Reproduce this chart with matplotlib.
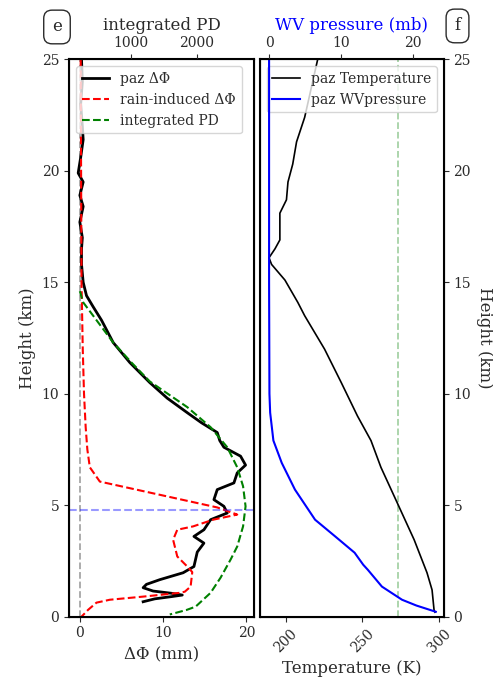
import matplotlib
matplotlib.use('Agg')
import matplotlib.pyplot as plt

plt.rcParams['font.family'] = 'DejaVu Serif'
plt.rcParams['font.size'] = 10
for key in ('text.color', 'axes.labelcolor', 'xtick.color', 'ytick.color'):
    plt.rcParams[key] = '#2b2b2b'

# left panel: differential phase profiles (mm) vs height (km)
paz_h = [25, 24, 23, 22, 21.4, 20.6, 19.9, 19.5, 18.9, 18.4, 17.7, 17.0, 16.5, 15.8,
         15.0, 14.4, 13.9, 13.3, 12.3, 11.4, 10.5, 9.8, 9.15, 8.7, 8.26, 7.9, 7.6, 7.2,
         6.8, 6.45, 6.0, 5.7, 5.25, 4.95, 4.65, 4.35, 3.9, 3.6, 3.3, 2.9, 2.25, 1.97,
         1.66, 1.45, 1.3, 1.15, 1.05, 0.97, 0.9, 0.8, 0.67]
paz_dphi = [0.2, 0.3, 0.1, 0.3, 0.4, 0.1, -0.2, 0.4, 0.0, 0.4, 0.0, 0.3, 0.2, 0.2,
            0.4, 0.8, 1.6, 2.6, 4.0, 6.0, 8.4, 10.5, 12.9, 14.6, 16.5, 16.8, 17.3, 19.3,
            19.9, 18.9, 18.5, 16.5, 16.1, 17.3, 17.7, 15.7, 14.9, 13.7, 14.9, 14.1, 13.7, 12.4,
            9.6, 8.0, 7.6, 8.8, 11.0, 12.3, 11.0, 9.0, 7.6]

rain_h = [25, 20, 15, 12, 10, 8.5, 7.5, 6.7, 6.06, 4.9, 4.58, 4.35, 4.05, 3.9, 3.45,
          2.7, 2.25, 2.0, 1.35, 1.12, 1.07, 0.9, 0.76, 0.63, 0.31, 0.0]
rain_dphi = [0.1, 0.15, 0.2, 0.35, 0.5, 0.7, 0.9, 1.2, 2.4, 16.5, 18.9, 16.0, 13.6, 11.7, 11.2,
             11.7, 12.9, 13.5, 13.3, 12.6, 12.0, 7.6, 3.6, 2.0, 1.0, 0.2]

ipd_h = [14.6, 14.1, 13.2, 12.3, 11.4, 10.55, 9.4, 8.5, 7.6, 6.7, 5.85, 4.95, 4.05,
         3.15, 2.56, 1.75, 1.07, 0.45, 0.3, 0.1]
ipd_dphi = [0.0, 0.4, 2.2, 4.0, 6.2, 8.4, 12.9, 15.7, 17.7, 18.9, 19.6, 19.9, 19.6,
            18.9, 18.1, 16.9, 15.7, 13.9, 12.8, 10.8]

melt_h = 4.8

# right panel: temperature (K) and water vapour pressure (mb)
temp_h = [25, 22.4, 21.3, 20.3, 19.5, 18.7, 18.1, 17.4, 16.9, 16.5, 16.1, 15.8, 15.1,
          14.1, 13.5, 12.0, 10.5, 9.0, 7.9, 6.7, 5.1, 3.45, 1.97, 1.2, 0.3, 0.2]
temp_k = [220.8, 212.3, 207.0, 204.5, 201.4, 200.4, 196.1, 196.1, 196.1, 192.9, 189.0, 190.7, 199.4,
          207.8, 212.3, 225.3, 236.2, 246.8, 255.6, 262.1, 272.8, 283.8, 292.2, 295.5, 296.8, 297.4]

wv_h = [25, 15, 10, 9.15, 7.9, 6.9, 5.7, 4.35, 3.6, 2.87, 2.33, 2.1, 1.35, 0.76, 0.5, 0.22]
wv_mb = [0.0, 0.0, 0.05, 0.15, 0.6, 1.76, 3.6, 6.4, 9.2, 11.9, 13.1, 13.75, 15.7, 18.5, 20.5, 23.2]

freeze_k = 273.15

fig = plt.figure(figsize=(4.93, 6.83), dpi=100)
ax1 = fig.add_axes([0.140, 0.0971, 0.375, 0.816])
ax2 = fig.add_axes([0.527, 0.0971, 0.373, 0.816])

for ax in (ax1, ax2):
    for s in ax.spines.values():
        s.set_linewidth(1.5)

# left panel
ax1.axvline(0, color='gray', ls='--', lw=1.3, alpha=0.7)
ax1.plot(paz_dphi, paz_h, color='k', lw=2, label='paz ΔΦ')
ax1.plot(rain_dphi, rain_h, color='r', ls='--', lw=1.5, label='rain-induced ΔΦ')
ax1.plot(ipd_dphi, ipd_h, color='g', ls='--', lw=1.5, label='integrated PD')
ax1.axhline(melt_h, color='b', ls='--', lw=1.5, alpha=0.4)
ax1.set_xlim(-1.3, 20.9)
ax1.set_ylim(0, 25)
ax1.set_xticks([0, 10, 20])
ax1.set_yticks([0, 5, 10, 15, 20, 25])
ax1.set_xlabel('ΔΦ (mm)', fontsize=12)
ax1.set_ylabel('Height (km)', fontsize=12)
ax1.legend(loc='upper left', fontsize=10)

ax1t = ax1.twiny()
ax1t.set_xlim(56, 2872)
ax1t.set_xticks([1000, 2000])
ax1t.set_xlabel('integrated PD', fontsize=12)

# right panel
ax2.axvline(freeze_k, color='g', ls='--', lw=1.3, alpha=0.35)
l1, = ax2.plot(temp_k, temp_h, color='k', lw=1.2, label='paz Temperature')
ax2.set_xlim(183.0, 303.1)
ax2.set_ylim(0, 25)
ax2.set_xticks([200, 250, 300])
ax2.tick_params(axis='x', labelrotation=45)
ax2.set_xlabel('Temperature (K)', fontsize=12)
ax2.yaxis.tick_right()
ax2.yaxis.set_label_position('right')
ax2.set_yticks([0, 5, 10, 15, 20, 25])
ax2.set_ylabel('Height (km)', fontsize=12, rotation=270, labelpad=16)

ax2t = ax2.twiny()
l2, = ax2t.plot(wv_mb, wv_h, color='b', lw=1.5, label='paz WVpressure')
ax2t.set_xlim(-1.29, 24.3)
ax2t.set_ylim(0, 25)
ax2t.set_xticks([0, 10, 20])
ax2t.set_xlabel('WV pressure (mb)', fontsize=12, color='b')
ax2.legend(handles=[l1, l2], loc='upper left', fontsize=10)

box = dict(boxstyle='round,pad=0.5', fc='white', ec='#2b2b2b', lw=1)
fig.text(0.1156, 0.9605, 'e', fontsize=12, ha='center', va='center', bbox=box)
fig.text(0.928, 0.962, 'f', fontsize=12, ha='center', va='center', bbox=box)

fig.savefig('out.png', dpi=100)
